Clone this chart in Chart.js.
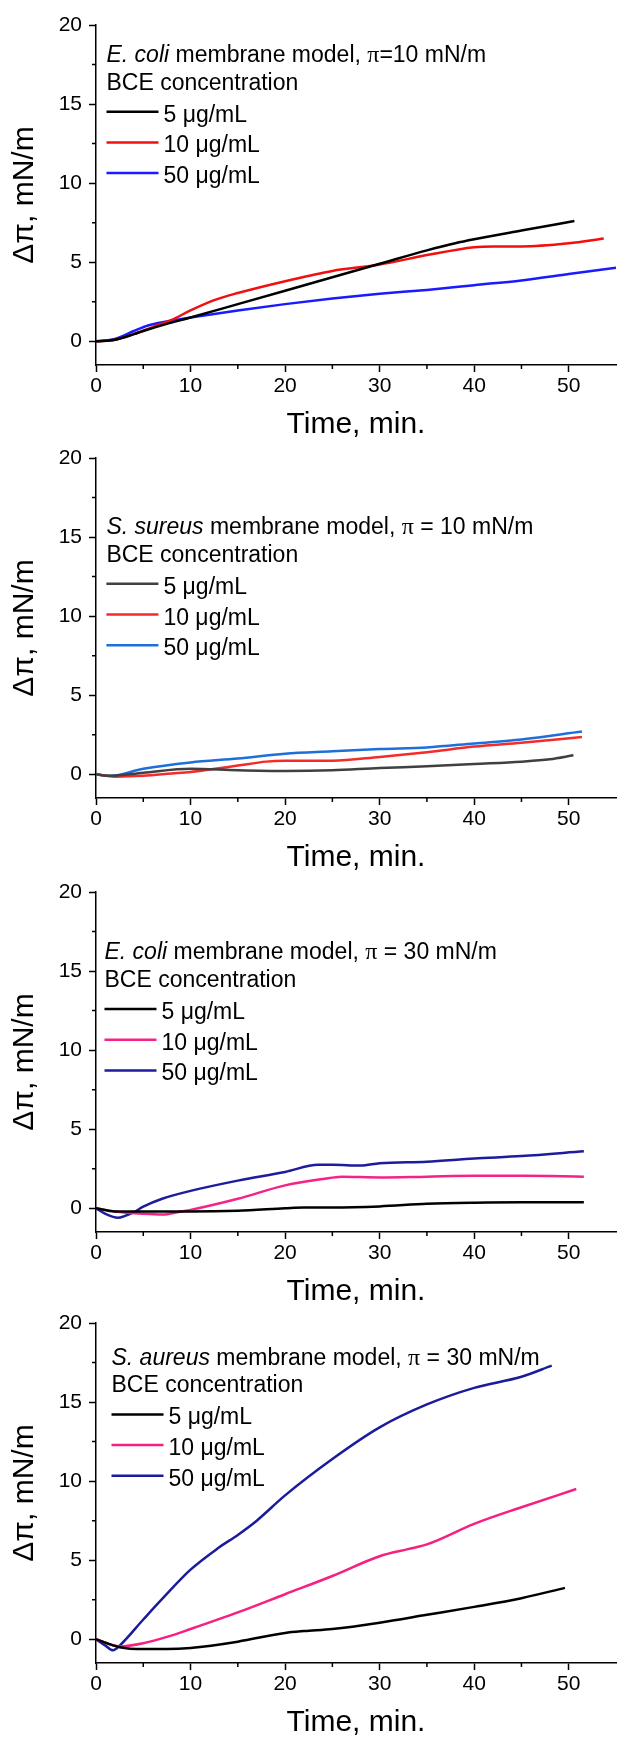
<!DOCTYPE html>
<html>
<head>
<meta charset="utf-8">
<script src="https://cdn.jsdelivr.net/npm/chart.js@4.4.1/dist/chart.umd.min.js"></script>
<style>
  body { margin: 0; background: #fff; }
  .panel { position: absolute; left: 0; width: 618px; height: 440px; }
</style>
</head>
<body>
<div class="panel" style="top:0px"><canvas id="chart1" width="618" height="440"></canvas></div>
<div class="panel" style="top:433px"><canvas id="chart2" width="618" height="440"></canvas></div>
<div class="panel" style="top:867px"><canvas id="chart3" width="618" height="440"></canvas></div>
<div class="panel" style="top:1298px"><canvas id="chart4" width="618" height="440"></canvas></div>
<script>
// Data ------------------------------------------------------

const concLabels = ['5 \u03bcg/mL', '10 \u03bcg/mL', '50 \u03bcg/mL'];
const xTickValues = [0, 10, 20, 30, 40, 50];
const xMinorTicks = [5, 15, 25, 35, 45];
const yTickValues = [0, 5, 10, 15, 20];
const yMinorTicks = [2.5, 7.5, 12.5, 17.5];

// E. coli, pi = 10 mN/m
const ecoli10_t5 = [0, 2, 4, 5, 7.5, 10, 15, 20, 25, 30, 35, 38, 40, 45, 50.6];
const ecoli10_v5 = [0, 0.1, 0.45, 0.65, 1.1, 1.5, 2.35, 3.2, 4.05, 4.9, 5.75, 6.2, 6.45, 7.0, 7.6];
const ecoli10_t10 = [0, 2, 4, 6, 8, 10, 12.5, 15, 20, 25, 30, 35, 40, 42, 45, 50, 53.7];
const ecoli10_v10 = [0, 0.1, 0.45, 0.9, 1.35, 1.95, 2.6, 3.05, 3.8, 4.45, 4.85, 5.45, 5.95, 6.0, 6.0, 6.2, 6.5];
const ecoli10_t50 = [0, 2, 4, 5.5, 7.5, 10, 15, 20, 25, 30, 35, 40, 45, 50, 55];
const ecoli10_v50 = [0, 0.15, 0.65, 1.0, 1.25, 1.5, 1.95, 2.35, 2.7, 3.0, 3.25, 3.55, 3.85, 4.25, 4.65];

// S. aureus, pi = 10 mN/m
const saur10_t5 = [0, 1.5, 5, 10, 15, 20, 25, 30, 35, 40, 45, 48, 50.5];
const saur10_v5 = [0, -0.1, 0.1, 0.35, 0.25, 0.2, 0.25, 0.4, 0.5, 0.65, 0.8, 0.95, 1.2];
const saur10_t10 = [0, 2, 5, 8, 10, 12, 15, 18, 20, 25, 30, 35, 40, 45, 51.4];
const saur10_v10 = [0, -0.15, -0.1, 0.05, 0.15, 0.3, 0.55, 0.8, 0.85, 0.85, 1.1, 1.4, 1.75, 2.0, 2.35];
const saur10_t50 = [0, 1.5, 5, 10, 15, 20, 25, 30, 35, 40, 45, 51.4];
const saur10_v50 = [0, -0.1, 0.35, 0.75, 1.0, 1.3, 1.45, 1.6, 1.7, 1.95, 2.2, 2.7];

// E. coli, pi = 30 mN/m
const ecoli30_t5 = [0, 2, 5, 10, 15, 20, 22, 25, 30, 35, 40, 45, 51.6];
const ecoli30_v5 = [0, -0.2, -0.2, -0.2, -0.15, 0, 0.05, 0.05, 0.12, 0.28, 0.35, 0.38, 0.38];
const ecoli30_t10 = [0, 2, 5, 7, 9, 10, 15, 20, 24, 26, 30, 35, 40, 45, 51.6];
const ecoli30_v10 = [0, -0.2, -0.35, -0.4, -0.2, -0.1, 0.6, 1.45, 1.85, 2.0, 1.95, 2.0, 2.05, 2.05, 2.0];
const ecoli30_t50 = [0, 1, 2.3, 3, 4, 5, 7, 10, 15, 20, 23.5, 25, 28, 30, 35, 40, 45, 51.6];
const ecoli30_v50 = [0, -0.35, -0.6, -0.5, -0.25, 0.1, 0.6, 1.1, 1.75, 2.3, 2.75, 2.75, 2.7, 2.85, 2.95, 3.15, 3.3, 3.6];

// S. aureus, pi = 30 mN/m
const saur30_t5 = [0, 2.5, 5, 7.5, 10, 15, 20, 22, 25, 30, 35, 40, 45, 49.6];
const saur30_v5 = [0, -0.5, -0.62, -0.62, -0.55, -0.15, 0.4, 0.52, 0.65, 1.05, 1.55, 2.05, 2.6, 3.25];
const saur30_t10 = [0, 2.5, 5, 7.5, 10, 15, 20, 25, 30, 33, 35, 40, 45, 50.8];
const saur30_v10 = [0, -0.45, -0.25, 0.15, 0.65, 1.7, 2.85, 4.0, 5.25, 5.7, 6.0, 7.3, 8.35, 9.5];
const saur30_t50 = [0, 1, 1.8, 2.5, 5, 7, 10, 13, 15, 17, 20, 25, 30, 35, 40, 45, 48.2];
const saur30_v50 = [0, -0.4, -0.7, -0.4, 1.25, 2.55, 4.4, 5.8, 6.6, 7.5, 9.1, 11.4, 13.4, 14.85, 15.9, 16.6, 17.3];

// Helpers ---------------------------------------------------

const FONT = '"Liberation Sans", Arial, sans-serif';
const SERIF = '"Liberation Serif", "Times New Roman", serif';
const LEG_SIZE = 23;

function points(t, v) {
  return t.map((x, i) => ({ x: x, y: v[i] }));
}

// minor ticks + legend with italic species name
const panelDecor = {
  id: 'panelDecor',
  afterDraw(chart, args, opts) {
    const ctx = chart.ctx;
    const xs = chart.scales.x, ys = chart.scales.y;
    const area = chart.chartArea;
    ctx.save();
    ctx.strokeStyle = '#000';
    ctx.lineWidth = 1.5;
    ctx.beginPath();
    xMinorTicks.forEach(v => {
      const px = xs.getPixelForValue(v);
      ctx.moveTo(px, area.bottom);
      ctx.lineTo(px, area.bottom + 4);
    });
    yMinorTicks.forEach(v => {
      const py = ys.getPixelForValue(v);
      ctx.moveTo(area.left, py);
      ctx.lineTo(area.left - 4, py);
    });
    ctx.stroke();

    // legend
    const lx = opts.x;
    const cy = area.top + opts.y;
    const base = 0.358 * LEG_SIZE;
    ctx.fillStyle = '#000';
    ctx.textBaseline = 'alphabetic';
    let x = lx;
    opts.title.forEach(part => {
      let f = LEG_SIZE + 'px ' + FONT;
      if (part.italic) f = 'italic ' + f;
      if (part.serif) f = (LEG_SIZE + 1) + 'px ' + SERIF;
      ctx.font = f;
      ctx.fillText(part.text, x, cy + base);
      x += ctx.measureText(part.text).width;
    });
    ctx.font = LEG_SIZE + 'px ' + FONT;
    ctx.fillText('BCE concentration', lx, cy + 27.7 + base);
    chart.data.datasets.forEach((ds, i) => {
      const ly = cy + 58 + i * 30.7;
      ctx.strokeStyle = ds.borderColor;
      ctx.lineWidth = 2.5;
      ctx.beginPath();
      ctx.moveTo(lx, ly);
      ctx.lineTo(lx + 52, ly);
      ctx.stroke();
      ctx.fillStyle = '#000';
      ctx.fillText(ds.label, lx + 57, ly + 1.8 + base);
    });
    ctx.restore();
  }
};

function makeChart(id, series, colors, legend) {
  return new Chart(document.getElementById(id), {
    type: 'line',
    data: {
      datasets: series.map((s, i) => ({
        label: concLabels[i],
        data: points(s[0], s[1]),
        borderColor: colors[i],
        borderWidth: 2.5,
        pointRadius: 0,
        fill: false,
        cubicInterpolationMode: 'monotone'
      }))
    },
    plugins: [panelDecor],
    options: {
      responsive: false,
      animation: false,
      devicePixelRatio: 1,
      layout: { padding: { top: 25, left: 0, right: 2, bottom: 0 } },
      plugins: {
        legend: { display: false },
        tooltip: { enabled: false },
        panelDecor: legend
      },
      scales: {
        x: {
          type: 'linear',
          min: 0,
          max: 55,
          afterBuildTicks: s => { s.ticks = xTickValues.map(v => ({ value: v })); },
          afterFit: s => { s.height = 75; },
          ticks: { color: '#000', font: { family: FONT, size: 21 }, padding: 2, maxRotation: 0, autoSkip: false },
          grid: { drawOnChartArea: false, tickLength: 7, tickWidth: 1.5, tickColor: '#000' },
          border: { display: true, color: '#000', width: 1.5 },
          title: { display: true, text: 'Time, min.', color: '#000', font: { family: FONT, size: 30, lineHeight: 1 }, padding: { top: 0, bottom: 0 } }
        },
        y: {
          type: 'linear',
          min: -1.5,
          max: 20,
          afterBuildTicks: s => { s.ticks = yTickValues.map(v => ({ value: v })); },
          afterFit: s => { s.width = 96; },
          ticks: { color: '#000', font: { family: FONT, size: 21 }, padding: 7 },
          grid: { drawOnChartArea: false, tickLength: 7, tickWidth: 1.5, tickColor: '#000' },
          border: { display: true, color: '#000', width: 1.5 },
          title: { display: true, text: '\u0394\u03c0, mN/m', color: '#000', font: { family: FONT, size: 30, lineHeight: 1 }, padding: { top: 10, bottom: 0 } }
        }
      }
    }
  });
}

// Charts ----------------------------------------------------

makeChart('chart1',
  [[ecoli10_t5, ecoli10_v5], [ecoli10_t10, ecoli10_v10], [ecoli10_t50, ecoli10_v50]],
  ['#000000', '#f01010', '#1a1aff'],
  { x: 106.5, y: 28.7, title: [{ text: 'E. coli', italic: true }, { text: ' membrane model, ' }, { text: '\u03c0', serif: true }, { text: '=10 mN/m' }] });

makeChart('chart2',
  [[saur10_t5, saur10_v5], [saur10_t10, saur10_v10], [saur10_t50, saur10_v50]],
  ['#404040', '#f52a2a', '#1f6fdb'],
  { x: 106.4, y: 67.8, title: [{ text: 'S. sureus', italic: true }, { text: ' membrane model, ' }, { text: '\u03c0', serif: true }, { text: ' = 10 mN/m' }] });

makeChart('chart3',
  [[ecoli30_t5, ecoli30_v5], [ecoli30_t10, ecoli30_v10], [ecoli30_t50, ecoli30_v50]],
  ['#000000', '#f5228a', '#1c1c9c'],
  { x: 104.5, y: 59, title: [{ text: 'E. coli', italic: true }, { text: ' membrane model, ' }, { text: '\u03c0', serif: true }, { text: ' = 30 mN/m' }] });

makeChart('chart4',
  [[saur30_t5, saur30_v5], [saur30_t10, saur30_v10], [saur30_t50, saur30_v50]],
  ['#000000', '#f5207f', '#1b1b9b'],
  { x: 111.5, y: 33.4, title: [{ text: 'S. aureus', italic: true }, { text: ' membrane model, ' }, { text: '\u03c0', serif: true }, { text: ' = 30 mN/m' }] });
</script>
</body>
</html>
